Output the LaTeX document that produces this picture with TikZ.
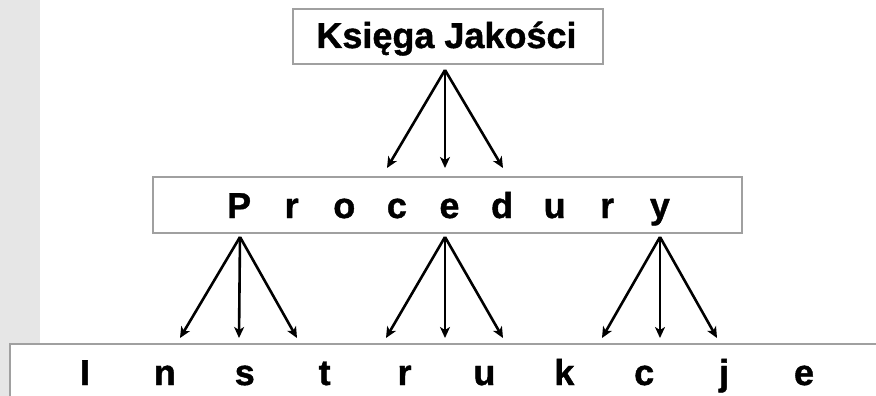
\documentclass[tikz,border=0pt]{standalone}
\usepackage{fontspec}
\setmainfont{Liberation Sans}
\newfontfamily\heavyfont{Liberation Sans Bold}[FakeBold=1.2]
\usetikzlibrary{arrows.meta}
\definecolor{stripgray}{HTML}{E6E6E6}
\definecolor{boxgray}{HTML}{A0A0A0}
\newcommand{\spaced}[2]{\makebox[#1][c]{#2}}
\begin{document}
\begin{tikzpicture}[x=1pt,y=-1pt,
  levelbox/.style={draw=boxgray,line width=1.5pt,fill=white},
  bigtext/.style={inner sep=0pt,anchor=base,font=\fontsize{36}{40}\heavyfont},
  arr/.style={line width=2.6pt,-{Stealth[length=11pt,width=10pt,inset=3pt]}}]
\useasboundingbox (0,0) rectangle (876,396);
\fill[white] (0,0) rectangle (876,396);
\fill[stripgray] (0,0) rectangle (40,396);
% boxes
\draw[levelbox] (293,9) rectangle (603,64);
\draw[levelbox] (153,177) rectangle (742,233);
\draw[levelbox] (10,400) |- (880,344);
% labels
\node[bigtext] (ksiega) at (446.5,48) {Księga Jakości};
\node[bigtext] (proc) at (449.5,218) {\spaced{52.6pt}{P}\spaced{52.6pt}{r}\spaced{52.6pt}{o}\spaced{52.6pt}{c}\spaced{52.6pt}{e}\spaced{52.6pt}{d}\spaced{52.6pt}{u}\spaced{52.6pt}{r}\spaced{52.6pt}{y}};
\node[bigtext] (instr) at (444.5,385) {\spaced{79.9pt}{I}\spaced{79.9pt}{n}\spaced{79.9pt}{s}\spaced{79.9pt}{t}\spaced{79.9pt}{r}\spaced{79.9pt}{u}\spaced{79.9pt}{k}\spaced{79.9pt}{c}\spaced{79.9pt}{j}\spaced{79.9pt}{e}};
% arrow sources and targets
\coordinate (k0) at (445,70);
\coordinate (t1) at (387,168);
\coordinate (t2) at (445,168);
\coordinate (t3) at (503,168);
\coordinate (pa) at (240,237);
\coordinate (pb) at (445,237);
\coordinate (pc) at (660,237);
\coordinate (a1) at (180,338);
\coordinate (a2) at (239,338);
\coordinate (a3) at (297,338);
\coordinate (b1) at (386,338);
\coordinate (b2) at (445,338);
\coordinate (b3) at (503,338);
\coordinate (c1) at (602,338);
\coordinate (c2) at (660,338);
\coordinate (c3) at (717,338);
\foreach \t in {t1,t2,t3} \draw[arr] (k0) -- (\t);
\foreach \t in {a1,a2,a3} \draw[arr] (pa) -- (\t);
\foreach \t in {b1,b2,b3} \draw[arr] (pb) -- (\t);
\foreach \t in {c1,c2,c3} \draw[arr] (pc) -- (\t);
\end{tikzpicture}
\end{document}
